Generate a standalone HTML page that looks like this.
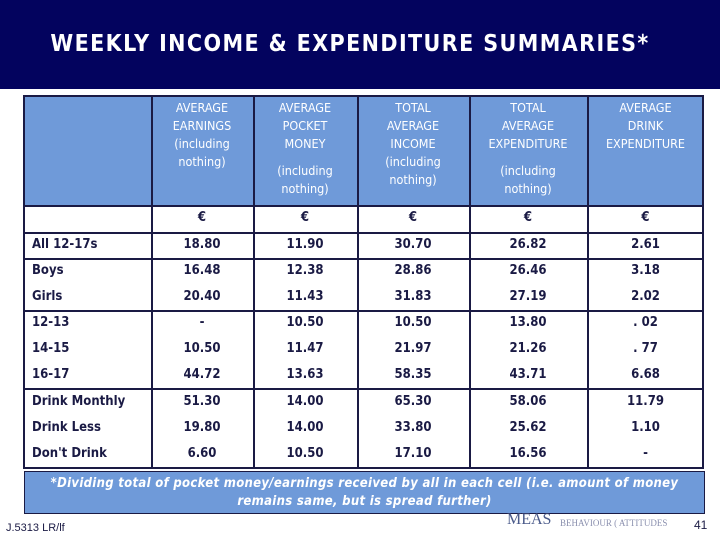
<!DOCTYPE html>
<html><head><meta charset="utf-8"><style>
body{margin:0;width:720px;height:540px;background:#fff;position:relative;overflow:hidden;font-family:"DejaVu Sans","Liberation Sans",sans-serif;color:#1a1a44}
.abs{position:absolute}
#band{left:0;top:0;width:720px;height:89px;background:#03035e}
#title{left:0;top:31px;width:700px;text-align:center;color:#fff;font-size:23px;font-weight:bold;letter-spacing:1.4px;font-family:"DejaVu Sans Condensed","DejaVu Sans",sans-serif}
#hdr{left:23px;top:95px;width:681px;height:110px;background:#6f9ad9}
.hline{position:absolute;left:23px;width:681px;height:2px;background:#1a1a44}
.vline{position:absolute;top:95px;width:2px;height:374px;background:#1a1a44}
.h{position:absolute;text-align:center;font-size:12.5px;line-height:18px;color:#fff;font-family:"DejaVu Sans Condensed","DejaVu Sans",sans-serif}
.c{position:absolute;text-align:center;font-size:13px;font-weight:bold;font-family:"DejaVu Sans Condensed","DejaVu Sans",sans-serif}
.l{position:absolute;left:32px;font-size:13px;font-weight:bold;font-family:"DejaVu Sans Condensed","DejaVu Sans",sans-serif}
#foot{left:24px;top:471px;width:681px;height:43px;background:#6f9ad9;border:1px solid #1a1a44;box-sizing:border-box;color:#fff;font-style:italic;font-weight:bold;font-size:13px;line-height:18px;text-align:center;padding:3px 20px 0 20px;letter-spacing:0.3px;font-family:"DejaVu Sans Condensed","DejaVu Sans",sans-serif}
</style></head><body>
<div class="abs" id="band"></div>
<div class="abs" id="title">WEEKLY INCOME &amp; EXPENDITURE SUMMARIES*</div>
<div class="abs" id="hdr"></div>
<div id="table"></div>
<div class="abs" id="foot">*Dividing total of pocket money/earnings received by all in each cell (i.e. amount of money<br>remains same, but is spread further)</div>
<div class="abs" style="left:6px;top:522px;font-size:11px;font-family:'Liberation Sans',sans-serif">J.5313 LR/lf</div>
<div class="abs" style="left:507px;top:511px;font-size:16px;font-family:'Liberation Serif',serif;color:#4a5a8a">MEAS</div>
<div class="abs" style="left:560px;top:518px;font-size:9px;font-family:'Liberation Serif',serif;color:#8a8fae">BEHAVIOUR ( ATTITUDES</div>
<div class="abs" style="left:694px;top:518px;font-size:12px;font-family:'Liberation Sans',sans-serif">41</div>
<script>
const headers=[["AVERAGE","EARNINGS","(including","nothing)"],["AVERAGE","POCKET","MONEY","","(including","nothing)"],["TOTAL","AVERAGE","INCOME","(including","nothing)"],["TOTAL","AVERAGE","EXPENDITURE","","(including","nothing)"],["AVERAGE","DRINK","EXPENDITURE"]];
const rowLabels=["All 12-17s","Boys","Girls","12-13","14-15","16-17","Drink Monthly","Drink Less","Don't Drink"];
const earnings=["18.80","16.48","20.40","-","10.50","44.72","51.30","19.80","6.60"];
const pocket=["11.90","12.38","11.43","10.50","11.47","13.63","14.00","14.00","10.50"];
const income=["30.70","28.86","31.83","10.50","21.97","58.35","65.30","33.80","17.10"];
const expend=["26.82","26.46","27.19","13.80","21.26","43.71","58.06","25.62","16.56"];
const drink=["2.61","3.18","2.02",". 02",". 77","6.68","11.79","1.10","-"];
const cols=[earnings,pocket,income,expend,drink];
const colX=[23,151,253,357,469,587,704];
const rowY=[245,271,297,323,349,375,402,428,454];
const t=document.getElementById('table');
function add(cls,style,text,name){const d=document.createElement('div');d.className=cls;d.setAttribute('style',style);if(text!==undefined)d.innerHTML=text;


t.appendChild(d);return d;}
[95,205,232,258,310,388,467].forEach((y,i)=>add('hline','top:'+y+'px;','', 'hline-'+i));
colX.forEach((x,i)=>add('vline','left:'+(i==colX.length-1?x-2:x)+'px;','', 'vline-'+i));
headers.forEach((h,i)=>{const x=colX[i+1],w=colX[i+2]-x;
add('h','left:'+x+'px;top:99px;width:'+w+'px;',h.map(s=>s||'<span style="display:block;height:9px"></span>').join('<br>').replace(/<br><span/g,'<span').replace(/<\/span><br>/g,'</span>'),'header-col-'+i);
add('c','left:'+x+'px;top:210px;width:'+w+'px;','€','euro-col-'+i);});
rowLabels.forEach((r,j)=>{add('l','top:'+(rowY[j]-8)+'px;',r,'row-label-'+j);
cols.forEach((c,i)=>{const x=colX[i+1],w=colX[i+2]-x;add('c','left:'+x+'px;top:'+(rowY[j]-8)+'px;width:'+w+'px;',c[j],'cell-'+j+'-'+i);});});
</script>
</body></html>
